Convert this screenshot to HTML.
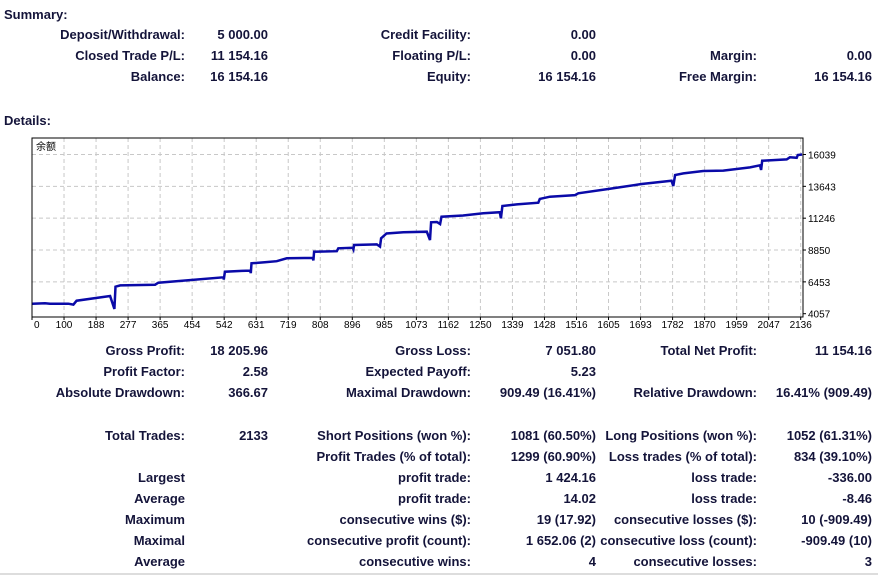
<!DOCTYPE html>
<html><head><meta charset="utf-8">
<style>
html,body{margin:0;padding:0;background:#fff;}
body{width:878px;height:575px;position:relative;overflow:hidden;font-family:"Liberation Sans","Noto Sans CJK SC",sans-serif;font-weight:bold;font-size:13px;color:#14143a;}
.t{position:absolute;white-space:nowrap;line-height:14px;}
.r{text-align:right;}
#chart{position:absolute;left:0;top:130px;}
#chart text{font-family:"Liberation Sans","Noto Sans CJK SC",sans-serif;font-weight:normal;font-size:10px;fill:#000;}
</style></head>
<body>
<div class="t" style="left:4px;top:8px">Summary:</div>
<div class="t" style="left:4px;top:114px">Details:</div>
<div id="cells"></div>
<svg id="chart" width="878" height="200"></svg>
<div style="position:absolute;left:0;top:573px;width:878px;height:2px;background:#ddd"></div>
<script>
// --- chart data ---
const trades=[1,36,50,101,115,124,217,229,232,245,342,351,532,533,536,583,606,608,610,647,680,708,780,782,784,847,851,891,893,895,958,967,970,985,1032,1097,1106,1109,1125,1134,1138,1198,1254,1300,1303,1307,1347,1407,1411,1439,1509,1518,1601,1694,1777,1782,1787,1810,1865,1921,1995,2023,2026,2029,2097,2106,2125,2128,2140];
const balances=[4810,4840,4810,4810,4740,5035,5390,4410,6090,6190,6240,6390,6800,6620,7220,7280,7300,7110,7850,7930,8010,8225,8260,8070,8720,8760,8980,9020,8900,9227,9270,9110,9730,10090,10180,10230,9600,10936,10960,10800,11360,11450,11610,11700,11240,12160,12280,12410,12700,12860,12980,13120,13440,13820,14070,13670,14495,14620,14800,14830,15070,15225,14870,15570,15670,15830,15790,16000,16039];
const xTickLabels=["0","100","188","277","365","454","542","631","719","808","896","985","1073","1162","1250","1339","1428","1516","1605","1693","1782","1870","1959","2047","2136"];
const yTickLabels=["4057","6453","8850","11246","13643","16039"];
const yTickValues=[4057,6453,8850,11246,13643,16039];

const NS="http://www.w3.org/2000/svg";
const svg=document.getElementById('chart');
const L=32,R=803,T=8,B=187;
const yMin=4057,yMax=16039,yTop=24.5,yBot=183.7;
function xs(t){return L+t*(800.7-32)/2136;}
function ys(v){return yBot-(v-yMin)/(yMax-yMin)*(yBot-yTop);}
function mk(tag,attrs){const e=document.createElementNS(NS,tag);for(const k in attrs)e.setAttribute(k,attrs[k]);svg.appendChild(e);return e;}
xTickLabels.forEach((lab,i)=>{
  const x=L+i*(800.7-32)/24;
  if(i>0){const g=mk('line',{x1:x,x2:x,y1:T,y2:B,stroke:'#c8c8c8','stroke-dasharray':'4,3'});
  
  }
  const tk=mk('line',{x1:x,x2:x,y1:B,y2:B+3,stroke:'#000'});
  
  
  const tx=mk('text',{x:i==0?x+2:x,y:B+11,'text-anchor':i==0?'start':'middle'});
  tx.textContent=lab;
  
  
});
yTickValues.forEach((v,i)=>{
  const y=ys(v);
  if(i>0){const g=mk('line',{x1:L,x2:R,y1:y,y2:y,stroke:'#c8c8c8','stroke-dasharray':'4,3'});
  
  }
  const tk=mk('line',{x1:R,x2:R+3,y1:y,y2:y,stroke:'#000'});
  
  
  const tx=mk('text',{x:R+5,y:y+4});
  tx.textContent=yTickLabels[i];
  
  
});
const fr=mk('rect',{x:L,y:T,width:R-L,height:B-T,fill:'none',stroke:'#000','stroke-width':1});


const ct=mk('text',{x:L+4,y:T+12});
ct.textContent='余额';


let d='';
trades.forEach((t,i)=>{
  d+=(i==0?'M':' L')+xs(t).toFixed(1)+' '+ys(balances[i]).toFixed(1);
});
const ln=mk('path',{d:d,fill:'none',stroke:'#0a0aa8','stroke-width':2.5,'stroke-linejoin':'miter'});



const cells=document.getElementById('cells');
function cell(right,top,text,name){
  const e=document.createElement('div');
  e.className='t r';
  e.style.right=(878-right)+'px';
  e.style.top=(top-7)+'px';
  e.textContent=text;
  
  
  cells.appendChild(e);
}
const rows=[
 [35,["Deposit/Withdrawal:","5 000.00","Credit Facility:","0.00","",""]],
 [56,["Closed Trade P/L:","11 154.16","Floating P/L:","0.00","Margin:","0.00"]],
 [77,["Balance:","16 154.16","Equity:","16 154.16","Free Margin:","16 154.16"]],
 [351,["Gross Profit:","18 205.96","Gross Loss:","7 051.80","Total Net Profit:","11 154.16"]],
 [372,["Profit Factor:","2.58","Expected Payoff:","5.23","",""]],
 [393,["Absolute Drawdown:","366.67","Maximal Drawdown:","909.49 (16.41%)","Relative Drawdown:","16.41% (909.49)"]],
 [436,["Total Trades:","2133","Short Positions (won %):","1081 (60.50%)","Long Positions (won %):","1052 (61.31%)"]],
 [457,["","","Profit Trades (% of total):","1299 (60.90%)","Loss trades (% of total):","834 (39.10%)"]],
 [478,["Largest","","profit trade:","1 424.16","loss trade:","-336.00"]],
 [499,["Average","","profit trade:","14.02","loss trade:","-8.46"]],
 [520,["Maximum","","consecutive wins ($):","19 (17.92)","consecutive losses ($):","10 (-909.49)"]],
 [541,["Maximal","","consecutive profit (count):","1 652.06 (2)","consecutive loss (count):","-909.49 (10)"]],
 [562,["Average","","consecutive wins:","4","consecutive losses:","3"]]
];
const rights=[185,268,471,596,757,872];
const kinds=['label','value','label','value','label','value'];
rows.forEach(([y,vals])=>{vals.forEach((v,i)=>{if(v)cell(rights[i],y,v,'stat-'+kinds[i]);});});
</script>
</body></html>
